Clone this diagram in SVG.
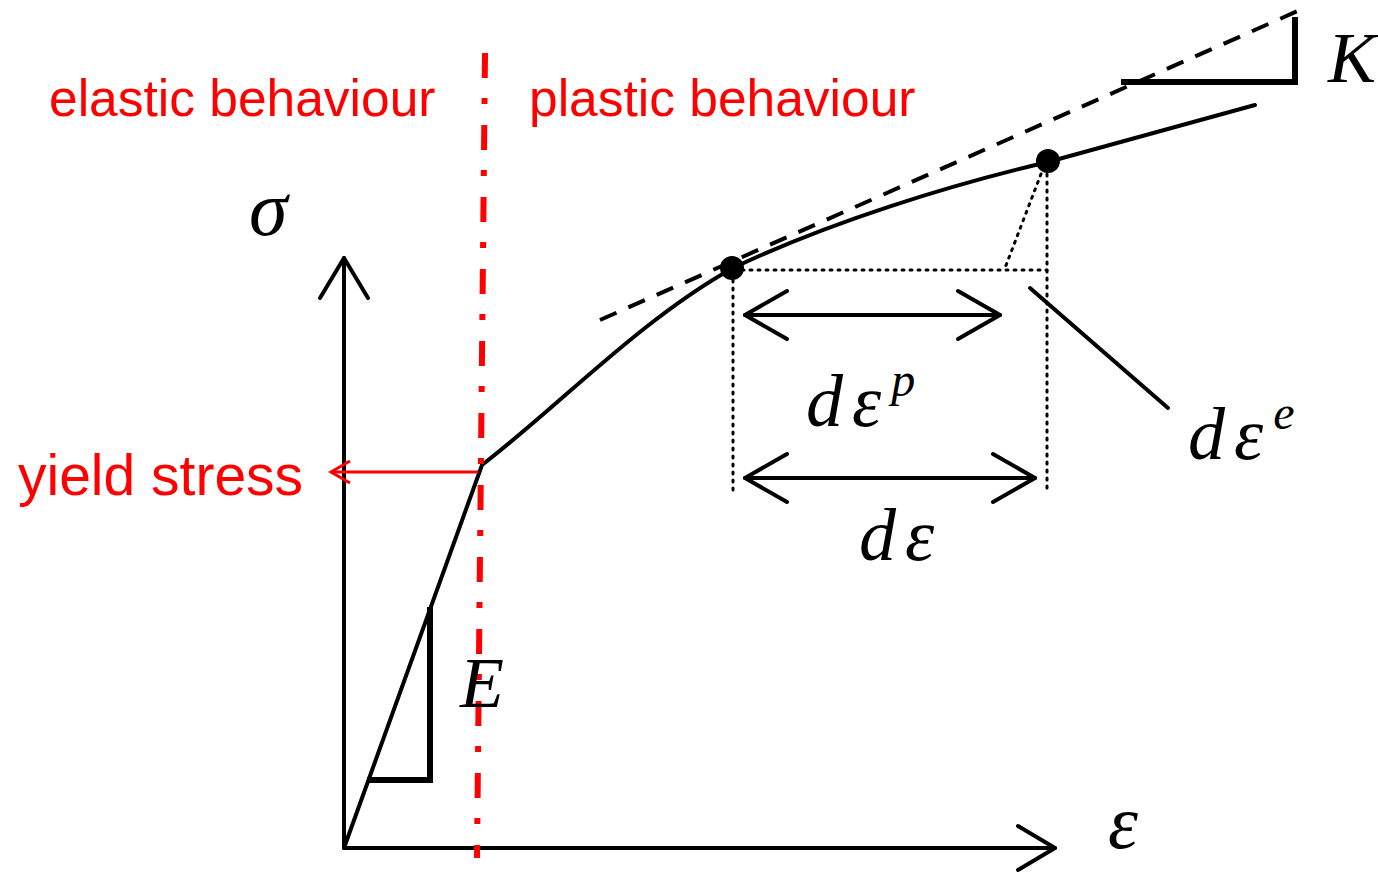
<svg xmlns="http://www.w3.org/2000/svg" width="1378" height="873" viewBox="0 0 1378 873">
<style>
.ax{fill:none;stroke:#000;stroke-width:4;stroke-linecap:round;stroke-linejoin:round}
.crv{fill:none;stroke:#000;stroke-width:4;stroke-linecap:round}
.tri{fill:none;stroke:#000;stroke-width:6;stroke-linecap:square}
.dot{fill:none;stroke:#000;stroke-width:3;stroke-dasharray:2 6;stroke-linecap:round}
.dash{fill:none;stroke:#000;stroke-width:4;stroke-dasharray:18 13}
.red{font-family:"Liberation Sans",Arial,sans-serif;fill:#ff0000}
.math{font-family:"Liberation Serif","Times New Roman",serif;font-style:italic;fill:#000}
</style>
<rect width="1378" height="873" fill="#fff"/>
<g id="axes">
<polyline class="ax" points="344,258 344,848 1055,848"/>
<polyline class="ax" points="320,298 344,258 368,298"/>
<polyline class="ax" points="1018,826 1055,848 1018,870"/>
</g>
<g id="tangent">
<line class="dash" x1="600" y1="320" x2="1300" y2="10"/>
</g>
<g id="curve">
<path class="crv" d="M344,848 L482,465 C560,405 640,320 733,268 C830,222 950,185 1048,162 L1255,105"/>
</g>
<g id="slope-K">
<polyline class="tri" points="1124,82 1295,82 1295,20"/>
</g>
<g id="slope-E">
<polyline class="tri" points="370,780 430,780 430,610"/>
</g>
<g id="dotted">
<line class="dot" x1="742" y1="270" x2="1047" y2="270"/>
<line class="dot" x1="733" y1="280" x2="733" y2="492"/>
<line class="dot" x1="1047" y1="174" x2="1047" y2="490"/>
<line class="dot" x1="1041" y1="174" x2="1005" y2="268"/>
</g>
<g id="points">
<circle cx="732" cy="268" r="12" fill="#000"/>
<circle cx="1048" cy="161" r="12" fill="#000"/>
</g>
<g id="connectors">
<line class="ax" x1="745" y1="315" x2="1000" y2="315"/>
<polyline class="ax" points="787,291 745,315 787,339"/>
<polyline class="ax" points="958,291 1000,315 958,339"/>
<line class="ax" x1="745" y1="478" x2="1035" y2="478"/>
<polyline class="ax" points="787,454 745,478 787,502"/>
<polyline class="ax" points="993,454 1035,478 993,502"/>
<line class="ax" x1="1030" y1="288" x2="1168" y2="408"/>
<line x1="478" y1="472" x2="332" y2="472" stroke="#ff0000" stroke-width="3"/>
<polyline points="350,461 331,472 350,483" fill="none" stroke="#ff0000" stroke-width="3"/>
</g>
<g id="divider">
<line x1="485" y1="53" x2="477" y2="858" stroke="#ff0000" stroke-width="6" stroke-dasharray="25 20 6 21"/>
</g>
<g id="labels">
<text class="red" x="49" y="116" font-size="51.5">elastic behaviour</text>
<text class="red" x="529" y="116" font-size="51.5">plastic behaviour</text>
<text class="red" x="18" y="495" font-size="57">yield stress</text>
<text class="math" x="249" y="235" font-size="78">σ</text>
<text class="math" x="1328" y="82" font-size="72">K</text>
<text class="math" x="460" y="707" font-size="72">E</text>
<text class="math" x="806" y="426" font-size="74">d<tspan dx="9">ε</tspan><tspan dx="10" dy="-30" font-size="48">p</tspan></text>
<text class="math" x="1188" y="459" font-size="74">d<tspan dx="9">ε</tspan><tspan dx="10" dy="-30" font-size="48">e</tspan></text>
<text class="math" x="859" y="560" font-size="74">d<tspan dx="9">ε</tspan></text>
<text class="math" x="1108" y="848" font-size="76">ε</text>
</g>
</svg>
